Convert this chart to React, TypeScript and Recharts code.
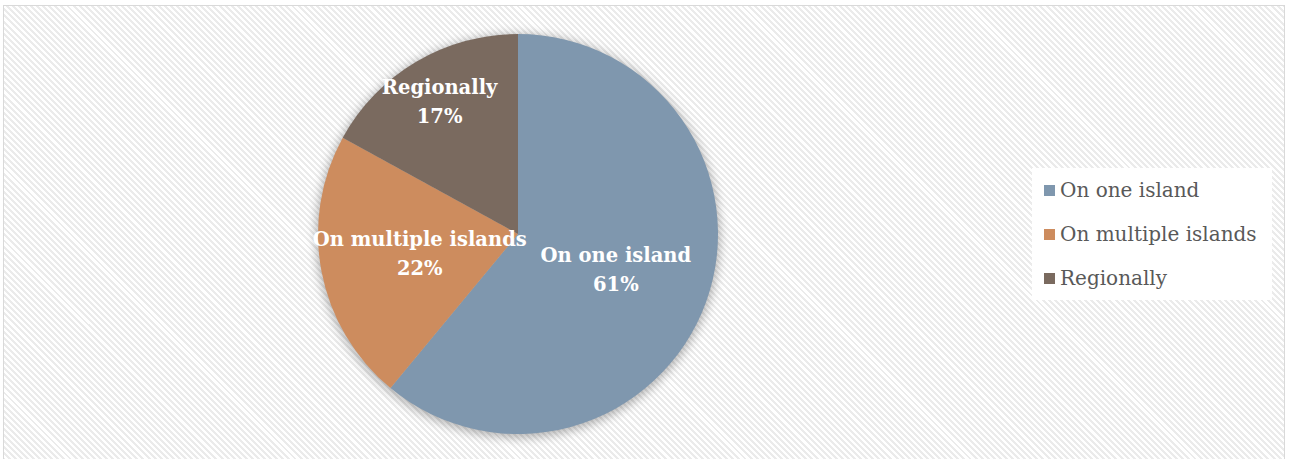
import { PieChart, Pie, Cell, Legend } from "recharts";

const categories = ["On one island", "On multiple islands", "Regionally"];
const shares = [61, 22, 17];
const colors = ["#7f97ae", "#cd8c5e", "#7a6a5f"];

// how far out (fraction of radius) each slice label sits
const labelRadius = [0.52, 0.5, 0.77];

const data = categories.map((name, i) => ({ name, value: shares[i] }));

const FONT = "'DejaVu Serif', 'Liberation Serif', serif";
const RAD = Math.PI / 180;

function SliceLabel(props: any) {
  const { cx, cy, midAngle, outerRadius, index, name, value } = props;
  const r = outerRadius * labelRadius[index];
  const x = cx + r * Math.cos(-midAngle * RAD);
  const y = cy + r * Math.sin(-midAngle * RAD);
  return (
    <text
      x={x}
      y={y}
      fill="#ffffff"
      textAnchor="middle"
      fontFamily={FONT}
      fontWeight="bold"
      fontSize={19.5}
    >
      <tspan x={x} dy={-7}>{name}</tspan>
      <tspan x={x} dy={29}>{value}%</tspan>
    </text>
  );
}

function LegendBox() {
  return (
    <div
      style={{
        background: "#ffffff",
        width: 240,
        fontFamily: FONT,
        fontSize: 20,
        color: "#595959",
      }}
    >
      {data.map((d, i) => (
        <div
          key={d.name}
          style={{ display: "flex", alignItems: "center", height: 44, paddingLeft: 12 }}
        >
          <span
            style={{
              width: 11,
              height: 11,
              background: colors[i],
              marginRight: 5,
              display: "inline-block",
            }}
          />
          {d.name}
        </div>
      ))}
    </div>
  );
}

export default function App() {
  return (
    <div
      style={{
        position: "absolute",
        left: 0,
        top: 0,
        width: 1289,
        height: 459,
        background: "#ffffff",
      }}
    >
      <style>{`.pie-shadow path { filter: blur(5px); }`}</style>
      <div
        style={{
          position: "absolute",
          left: 3,
          top: 5,
          width: 1282,
          height: 460,
          border: "1.5px solid #d9d9d9",
          boxSizing: "border-box",
          backgroundImage:
            "repeating-linear-gradient(45deg, #ffffff 0px, #ffffff 2.2px, #ebebeb 2.2px, #ebebeb 4.3px)",
        }}
      />
      <div style={{ position: "absolute", left: 0, top: 0 }}>
        <PieChart width={1289} height={459} margin={{ top: 0, right: 0, bottom: 0, left: 0 }}>
          <Pie
            className="pie-shadow"
            data={[{ name: "shadow", value: 1 }]}
            dataKey="value"
            cx={518}
            cy={236}
            outerRadius={202}
            startAngle={90}
            endAngle={-270}
            stroke="none"
            fill="rgba(0,0,0,0.28)"
            isAnimationActive={false}
            legendType="none"
          />
          <Pie
            data={data}
            dataKey="value"
            nameKey="name"
            cx={518}
            cy={234}
            outerRadius={200}
            startAngle={90}
            endAngle={-270}
            stroke="none"
            label={SliceLabel}
            labelLine={false}
            isAnimationActive={false}
          >
            {data.map((d, i) => (
              <Cell key={d.name} fill={colors[i]} />
            ))}
          </Pie>
          <Legend
            layout="vertical"
            align="right"
            verticalAlign="top"
            content={() => <LegendBox />}
            wrapperStyle={{ left: 1032, top: 168, width: 240 }}
          />
        </PieChart>
      </div>
    </div>
  );
}
